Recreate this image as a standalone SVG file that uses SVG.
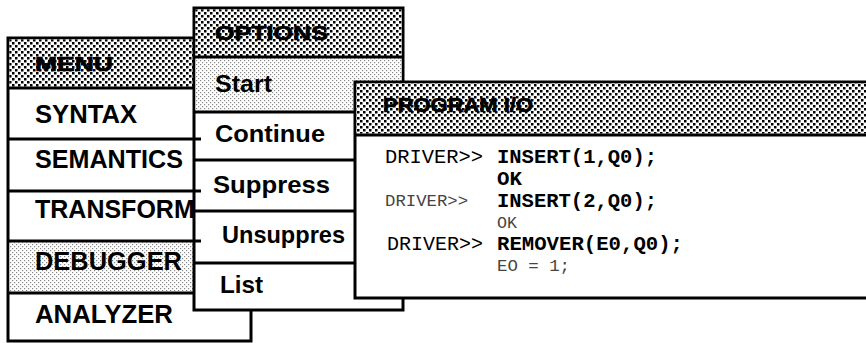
<svg xmlns="http://www.w3.org/2000/svg" width="866" height="343" viewBox="0 0 866 343">
<defs>
<pattern id="dk" width="6" height="6" patternUnits="userSpaceOnUse">
<rect width="6" height="6" fill="#fff"/>
<rect x="0" y="0" width="2.5" height="2.5" fill="#000"/>
<rect x="3" y="3" width="2.5" height="2.5" fill="#000"/>
</pattern>
<pattern id="lt" width="4" height="4" patternUnits="userSpaceOnUse">
<rect width="4" height="4" fill="#fff"/>
<rect x="0" y="0" width="1.2" height="1.2" fill="#888"/>
<rect x="2" y="2" width="1.2" height="1.2" fill="#888"/>
</pattern>
<style>
.box{fill:#fff;stroke:#000;stroke-width:3}
.ln{stroke:#000;stroke-width:3;fill:none}
.hdr{font-family:"Liberation Sans",Arial,sans-serif;font-weight:bold;font-size:21px;fill:#000;stroke:#000;stroke-width:0.7}
.it{font-family:"Liberation Sans",Arial,sans-serif;font-weight:bold;font-size:25px;fill:#000}
.op{font-family:"Liberation Sans",Arial,sans-serif;font-weight:bold;font-size:24px;fill:#000}
.mo{font-family:"Liberation Mono","Courier New",monospace;font-size:20px;fill:#000}
.ms{font-family:"Liberation Mono","Courier New",monospace;font-size:16px;fill:#444}
</style>
</defs>

<g id="menu">
<rect class="box" x="8" y="38" width="243" height="303"/>
<rect x="9.5" y="39.5" width="240" height="48" fill="url(#dk)"/>
<rect x="9.5" y="242.5" width="240" height="49" fill="url(#lt)"/>
<path class="ln" d="M8 88H251M8 139H251M8 191H251M8 241H251M8 293H251"/>
<text class="hdr" x="35" y="71" textLength="78" lengthAdjust="spacingAndGlyphs">MENU</text>
<text class="it" x="35" y="123" textLength="102" lengthAdjust="spacingAndGlyphs">SYNTAX</text>
<text class="it" x="35" y="168" textLength="148" lengthAdjust="spacingAndGlyphs">SEMANTICS</text>
<text class="it" x="35" y="218">TRANSFORM</text>
<text class="it" x="35" y="270" textLength="147" lengthAdjust="spacingAndGlyphs">DEBUGGER</text>
<text class="it" x="35" y="323" textLength="138" lengthAdjust="spacingAndGlyphs">ANALYZER</text>
</g>

<g id="options">
<rect class="box" x="194" y="8" width="209" height="302"/>
<rect x="195.5" y="9.5" width="206" height="47" fill="url(#dk)"/>
<rect x="195.5" y="58.5" width="206" height="52" fill="url(#lt)"/>
<path class="ln" d="M194 57H403M194 112H403M194 160H403M194 211H403M194 263H403"/>
<text class="hdr" x="215" y="40" textLength="113" lengthAdjust="spacingAndGlyphs">OPTIONS</text>
<text class="op" x="215" y="92" textLength="57" lengthAdjust="spacingAndGlyphs">Start</text>
<text class="op" x="215" y="142" textLength="110" lengthAdjust="spacingAndGlyphs">Continue</text>
<text class="op" x="213" y="193" textLength="117" lengthAdjust="spacingAndGlyphs">Suppress</text>
<text class="op" x="222" y="243" textLength="123" lengthAdjust="spacingAndGlyphs">Unsuppres</text>
<text class="op" x="220" y="293" textLength="43" lengthAdjust="spacingAndGlyphs">List</text>
</g>

<g id="menu-edges">
<path class="ln" d="M194 139H201M194 191H201M194 241H201"/>
</g>

<g id="program-io">
<rect class="box" x="355" y="82" width="520" height="216"/>
<rect x="356.5" y="83.5" width="517" height="50" fill="url(#dk)"/>
<path class="ln" d="M355 135H875"/>
<text class="hdr" x="383" y="112" textLength="150" lengthAdjust="spacingAndGlyphs">PROGRAM I/O</text>
<text class="mo" x="385" y="163" textLength="98" lengthAdjust="spacingAndGlyphs">DRIVER&gt;&gt;</text>
<text class="mo" x="497" y="163" textLength="160" lengthAdjust="spacingAndGlyphs" font-weight="bold">INSERT(1,Q0);</text>
<text class="mo" x="497" y="185" textLength="25" lengthAdjust="spacingAndGlyphs" font-weight="bold">OK</text>
<text class="ms" x="385" y="206" textLength="83" lengthAdjust="spacingAndGlyphs">DRIVER&gt;&gt;</text>
<text class="mo" x="497" y="207" textLength="160" lengthAdjust="spacingAndGlyphs" font-weight="bold">INSERT(2,Q0);</text>
<text class="ms" x="497" y="228" textLength="20" lengthAdjust="spacingAndGlyphs">OK</text>
<text class="mo" x="387" y="250" textLength="96" lengthAdjust="spacingAndGlyphs">DRIVER&gt;&gt;</text>
<text class="mo" x="497" y="250" textLength="186" lengthAdjust="spacingAndGlyphs" font-weight="bold">REMOVER(E0,Q0);</text>
<text class="ms" x="497" y="271" textLength="73" lengthAdjust="spacingAndGlyphs">EO = 1;</text>
</g>
</svg>
